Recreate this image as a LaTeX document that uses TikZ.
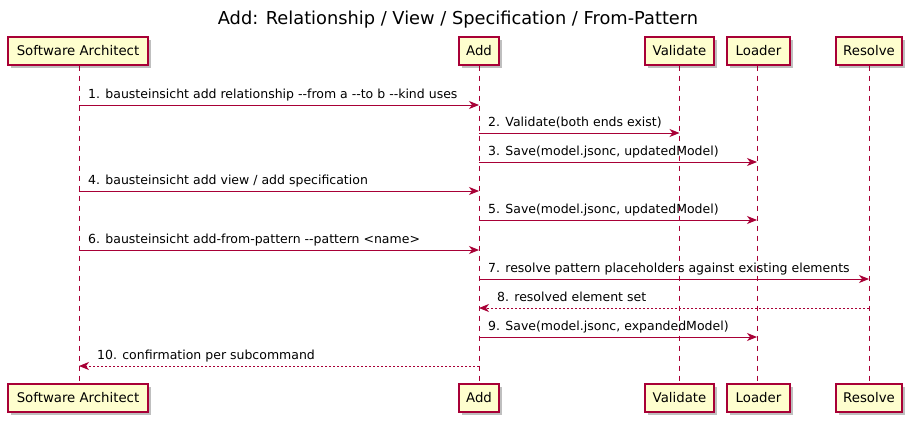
\documentclass[tikz,border=0pt]{standalone}
\usepackage{fontspec}
\setmainfont{DejaVu Sans}
\usetikzlibrary{arrows.meta,shadows,calc}
\definecolor{pred}{HTML}{A80036}
\definecolor{pfill}{HTML}{FEFECE}
\tikzset{
  part/.style={draw=pred, fill=pfill, line width=1.2pt, minimum height=28pt, inner xsep=5pt, inner ysep=0pt,
    font=\fontsize{13.3}{15}\selectfont, text=black,
    drop shadow={shadow xshift=3pt, shadow yshift=-3pt, fill=black, opacity=0.25}},
  life/.style={draw=pred, line width=1pt, dash pattern=on 5pt off 5pt},
  msg/.style={draw=pred, line width=1pt, -{Stealth[length=10pt,width=8pt,inset=3pt]}},
  ret/.style={msg, dash pattern=on 2pt off 2pt},
  lbl/.style={font=\fontsize{12.5}{14}\selectfont, text=black, anchor=base west, inner sep=0pt}
}
\begin{document}
\begin{tikzpicture}[x=1pt,y=-1pt]
\useasboundingbox (0,0) rectangle (912,423);
\node[font=\fontsize{17.8}{20}\selectfont] (title) at (458,20) {Add: Relationship / View / Specification / From-Pattern};
% top participants
\node[part, minimum width=140pt] (sa)  at (78,51) {Software Architect};
\node[part, minimum width=40pt]  (ad)  at (479,51) {Add};
\node[part, minimum width=69pt]  (va)  at (679.5,51) {Validate};
\node[part, minimum width=63pt]  (lo)  at (758.5,51) {Loader};
\node[part, minimum width=66pt]  (re)  at (869,51) {Resolve};
% bottom participants
\node[part, minimum width=140pt] (sab) at (78,398) {Software Architect};
\node[part, minimum width=40pt]  (adb) at (479,398) {Add};
\node[part, minimum width=69pt]  (vab) at (679.5,398) {Validate};
\node[part, minimum width=63pt]  (lob) at (758.5,398) {Loader};
\node[part, minimum width=66pt]  (reb) at (869,398) {Resolve};
% lifelines
\draw[life] (sa.south -| 79,0) -- (sab.north -| 79,0);
\draw[life] (ad.south) -- (adb.north);
\draw[life] (va.south) -- (vab.north);
\draw[life] (lo.south -| 757,0) -- (lob.north -| 757,0);
\draw[life] (re.south) -- (reb.north);
% messages
\draw[msg] (79,105) -- (ad.south |- 0,105);
\node[lbl] (m1) at (88,98) {1. bausteinsicht add relationship -{}-from a -{}-to b -{}-kind uses};
\draw[msg] (ad.south |- 0,133) -- (va.south |- 0,133);
\node[lbl] (m2) at (488,126) {2. Validate(both ends exist)};
\draw[msg] (ad.south |- 0,162) -- (757,162);
\node[lbl] (m3) at (488,155) {3. Save(model.jsonc, updatedModel)};
\draw[msg] (79,191) -- (ad.south |- 0,191);
\node[lbl] (m4) at (88,184) {4. bausteinsicht add view / add specification};
\draw[msg] (ad.south |- 0,220) -- (757,220);
\node[lbl] (m5) at (488,213) {5. Save(model.jsonc, updatedModel)};
\draw[msg] (79,250) -- (ad.south |- 0,250);
\node[lbl] (m6) at (88,243) {6. bausteinsicht add-from-pattern -{}-pattern <name>};
\draw[msg] (ad.south |- 0,279) -- (re.south |- 0,279);
\node[lbl] (m7) at (488,272) {7. resolve pattern placeholders against existing elements};
\draw[ret] (re.south |- 0,308) -- (ad.south |- 0,308);
\node[lbl] (m8) at (497,301) {8. resolved element set};
\draw[msg] (ad.south |- 0,337) -- (757,337);
\node[lbl] (m9) at (488,330) {9. Save(model.jsonc, expandedModel)};
\draw[ret] (ad.south |- 0,366) -- (79,366);
\node[lbl] (m10) at (97,359) {10. confirmation per subcommand};
\end{tikzpicture}
\end{document}
